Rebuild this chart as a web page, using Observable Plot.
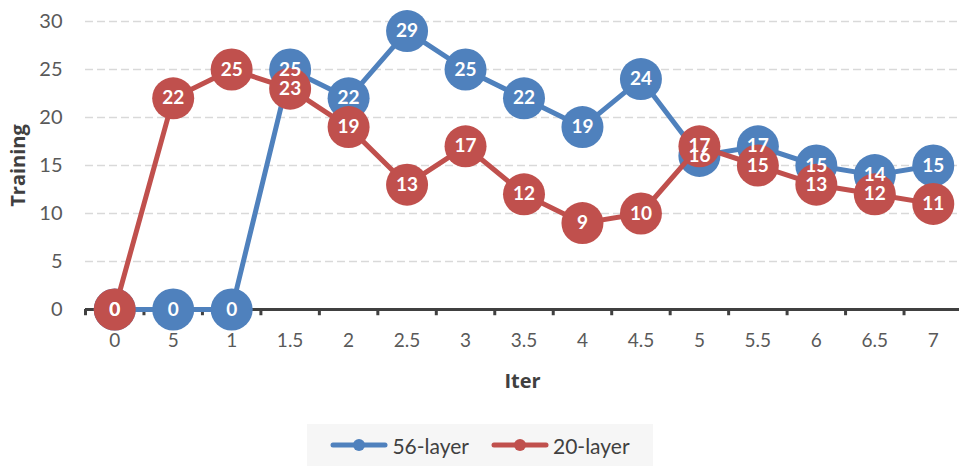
<!DOCTYPE html>
<html><head><meta charset="utf-8">
<script src="https://cdn.jsdelivr.net/npm/d3@7"></script>
<script src="https://cdn.jsdelivr.net/npm/@observablehq/plot@0.6"></script>
<style>
body{margin:0;background:#fff;font-family:Lato,"Liberation Sans",sans-serif;width:959px;height:466px;position:relative;overflow:hidden;}
#chart{position:absolute;left:0;top:0;}
#legend{position:absolute;left:307px;top:424px;width:346px;height:42px;background:#f6f6f6;display:flex;align-items:center;justify-content:center;gap:22px;}
.item{display:flex;align-items:center;gap:4px;font-size:21px;color:#404040;}
</style></head><body><div id="chart"></div><div id="legend"></div>
<script>
const iterLabels = ["0","5","1","1.5","2","2.5","3","3.5","4","4.5","5","5.5","6","6.5","7"];
const series56 = [0,0,0,25,22,29,25,22,19,24,16,17,15,14,15];
const series20 = [0,22,25,23,19,13,17,12,9,10,17,15,13,12,11];
const seriesNames = ["56-layer","20-layer"];
const seriesColors = ["#4F81BD","#C0504D"];
const yTicks = [0,5,10,15,20,25,30];

const n = iterLabels.length;
const rows = s => s.map((v,i)=>({i, v}));
const d56 = rows(series56), d20 = rows(series20);
const W=959, H=410, mL=85, mR=0, mT=21, mB=101;
const plotRight = 962;
const step = (plotRight - mL)/n;
const idx = d3.range(n);
const titleFont = '"Open Sans",Lato,sans-serif';

const chart = Plot.plot({
  width:W, height:H, marginLeft:mL, marginRight:mR, marginTop:mT, marginBottom:mB,
  x:{type:"point", domain:idx, range:[mL + step/2, plotRight - step/2], padding:0, round:false},
  y:{domain:[0,30]},
  style:{fontFamily:'Lato,"Liberation Sans",sans-serif', color:"#595959", background:"transparent"},
  marks:[
    Plot.gridY(yTicks.slice(1), {stroke:"#d9d9d9", strokeOpacity:1, strokeDasharray:"8,4", strokeWidth:1.3}),
    Plot.axisY(yTicks, {tickSize:0, tickPadding:23, fontSize:20, label:null, fill:"#595959"}),
    Plot.axisX(idx, {tickSize:0, tickPadding:24, fontSize:19, tickFormat:i=>iterLabels[i], label:null, fill:"#595959"}),
    Plot.ruleY([0], {stroke:"#404040", strokeWidth:3}),
    Plot.ruleX(idx, {x:d=>d, dx:-step/2, y1:0, y2:-0.65, stroke:"#404040", strokeWidth:3}),
    Plot.line(d56, {x:"i", y:"v", stroke:seriesColors[0], strokeWidth:5}),
    Plot.dot(d56, {x:"i", y:"v", r:21, fill:seriesColors[0]}),
    Plot.line(d20, {x:"i", y:"v", stroke:seriesColors[1], strokeWidth:5}),
    Plot.dot(d20, {x:"i", y:"v", r:21, fill:seriesColors[1]}),
    Plot.text(d56, {x:"i", y:"v", text:"v", fill:"white", fontWeight:"bold", fontSize:19}),
    Plot.text(d20, {x:"i", y:"v", text:"v", fill:"white", fontWeight:"bold", fontSize:19}),
    Plot.text(["Training"], {frameAnchor:"left", textAnchor:"middle", lineAnchor:"middle", dx:-67, rotate:-90, fontWeight:"bold", fontSize:20, fontFamily:titleFont, fill:"#404040"}),
    Plot.text(["Iter"], {frameAnchor:"bottom", lineAnchor:"middle", dy:72, fontWeight:"bold", fontSize:20, fontFamily:titleFont, fill:"#404040"})
  ]
});
document.getElementById("chart").append(chart);

const legend = document.getElementById("legend");
seriesNames.forEach((name, k) => {
  const item = document.createElement("div");
  item.className = "item";
  item.innerHTML = `<svg width="58" height="14"><line x1="3" y1="7" x2="55" y2="7" stroke="${seriesColors[k]}" stroke-width="5" stroke-linecap="round"/><circle cx="29" cy="7" r="6" fill="${seriesColors[k]}"/></svg><span>${name}</span>`;
  legend.append(item);
});
</script></body></html>
